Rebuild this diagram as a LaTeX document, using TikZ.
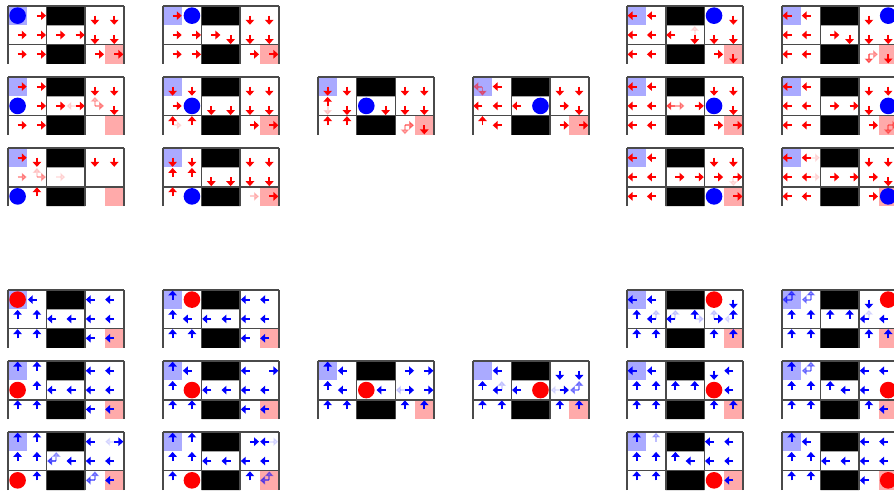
\documentclass[tikz,border=0pt]{standalone}
\usepackage{tikz}
\usetikzlibrary{arrows.meta}
\definecolor{startcell}{HTML}{AAAAFF}
\definecolor{goalcell}{HTML}{FFAAAA}
\definecolor{gridline}{HTML}{4A4A4A}
\def\dirr{0}\def\diru{90}\def\dirl{180}\def\dird{270}

% #1,#2 top left corner, #3,#4 agent cell (col,row), #5 arrow colour, #6 agent colour, #7 arrows col/row/dir/opacity
\newcommand{\policygrid}[7]{%
  \begin{scope}[shift={(#1,-#2)}]
    \fill[startcell] (0,0) rectangle (1,-1);
    \fill[goalcell] (5,-2) rectangle (6,-3);
    \fill[black] (2,0) rectangle (4,-1) (2,-2) rectangle (4,-3);
    \draw[cellgrid] (0,0) grid (6,-3);
    \foreach \px/\py/\dir/\op in {#7}
      \draw[policy arrow, #5, opacity=\op] (\px+.5,-\py-.5) -- ++(\csname dir\dir\endcsname:.47);
    \fill[#6] (#3+.5,-#4-.5) circle (.43);
  \end{scope}}

\begin{document}
\begin{tikzpicture}[
    x=0.5cm, y=0.5cm,
    cellgrid/.style={draw=gridline, line width=1.15pt},
    policy arrow/.style={-{Triangle[length=3.6pt,width=6.2pt]}, line width=1.4pt}
]
\useasboundingbox (0,0) rectangle (46.25,-25.66);
\clip (0,0) rectangle (46.25,-25.66);

% first agent
\policygrid{0.41}{0.31}{0}{0}{red}{blue}{1/0/r/1, 4/0/d/1, 5/0/d/1, 0/1/r/1, 1/1/r/1, 2/1/r/1, 3/1/r/1, 4/1/d/1, 5/1/d/1, 0/2/r/1, 1/2/r/1, 4/2/r/1, 5/2/r/1}
\policygrid{0.41}{3.98}{0}{1}{red}{blue}{0/0/r/1, 1/0/r/1, 4/0/d/1, 5/0/d/1, 1/1/r/1, 2/1/r/1, 3/1/r/1, 3/1/l/.1, 4/1/r/.35, 4/1/u/.25, 5/1/d/1, 0/2/r/1, 1/2/r/1}
\policygrid{0.41}{7.66}{0}{2}{red}{blue}{0/0/r/1, 1/0/d/1, 4/0/d/1, 5/0/d/1, 0/1/r/.35, 1/1/r/.3, 1/1/u/.15, 2/1/r/.1, 1/2/u/1}
\policygrid{8.43}{0.31}{1}{0}{red}{blue}{0/0/r/1, 4/0/d/1, 5/0/d/1, 0/1/r/1, 1/1/r/1, 2/1/r/1, 3/1/d/1, 4/1/d/1, 5/1/d/1, 0/2/r/1, 1/2/r/1, 4/2/r/1, 5/2/r/1}
\policygrid{8.43}{3.98}{1}{1}{red}{blue}{0/0/d/1, 1/0/d/1, 4/0/d/1, 5/0/d/1, 0/1/r/1, 2/1/d/1, 3/1/d/1, 4/1/d/1, 5/1/d/1, 0/2/u/1, 0/2/r/.1, 1/2/u/1, 4/2/r/1, 5/2/r/1}
\policygrid{8.43}{7.66}{1}{2}{red}{blue}{0/0/d/1, 1/0/d/1, 4/0/d/1, 5/0/d/1, 0/1/u/1, 1/1/u/1, 2/1/d/1, 3/1/d/1, 4/1/d/1, 5/1/d/1, 0/2/u/1, 4/2/r/.2, 5/2/r/1}
\policygrid{16.45}{3.98}{2}{1}{red}{blue}{0/0/d/1, 1/0/d/1, 4/0/d/1, 5/0/d/1, 0/1/u/1, 0/1/d/.15, 1/1/d/1, 3/1/d/1, 4/1/d/1, 5/1/d/1, 0/2/u/1, 1/2/u/1, 4/2/r/.45, 4/2/d/.3, 5/2/d/1}
\policygrid{24.46}{3.98}{3}{1}{red}{blue}{0/0/l/.4, 0/0/d/.4, 1/0/l/1, 4/0/d/1, 5/0/d/1, 0/1/l/1, 1/1/l/1, 2/1/l/1, 4/1/r/1, 5/1/d/1, 0/2/u/1, 1/2/l/1, 4/2/r/1, 5/2/r/1}
\policygrid{32.44}{0.31}{4}{0}{red}{blue}{0/0/l/1, 1/0/l/1, 5/0/d/1, 0/1/l/1, 1/1/l/1, 2/1/l/1, 3/1/d/1, 3/1/u/.1, 4/1/d/1, 5/1/d/1, 0/2/l/1, 1/2/l/1, 4/2/r/1, 5/2/d/1}
\policygrid{32.44}{3.98}{4}{1}{red}{blue}{0/0/l/1, 1/0/l/1, 4/0/d/1, 5/0/d/1, 0/1/l/1, 1/1/l/1, 2/1/l/.6, 2/1/r/.35, 3/1/r/1, 5/1/d/1, 0/2/l/1, 1/2/l/1, 4/2/r/1, 5/2/r/1}
\policygrid{32.44}{7.66}{4}{2}{red}{blue}{0/0/l/1, 1/0/l/1, 4/0/d/1, 5/0/d/1, 0/1/l/1, 1/1/l/1, 2/1/r/1, 3/1/r/1, 4/1/r/1, 5/1/r/1, 5/1/d/.1, 0/2/l/1, 1/2/l/1, 5/2/r/1}
\policygrid{40.45}{0.31}{5}{0}{red}{blue}{0/0/l/1, 1/0/l/1, 4/0/d/1, 0/1/l/1, 1/1/l/1, 2/1/r/1, 3/1/d/1, 4/1/d/1, 5/1/d/1, 0/2/l/1, 1/2/l/1, 4/2/r/.3, 4/2/d/.5, 5/2/d/1}
\policygrid{40.45}{3.98}{5}{1}{red}{blue}{0/0/l/1, 1/0/l/1, 4/0/d/1, 5/0/d/1, 0/1/l/1, 1/1/l/1, 2/1/r/1, 3/1/r/1, 4/1/d/1, 0/2/l/1, 1/2/l/1, 4/2/r/1, 5/2/r/.35, 5/2/d/.35}
\policygrid{40.45}{7.66}{5}{2}{red}{blue}{0/0/l/1, 1/0/l/1, 1/0/r/.1, 4/0/d/1, 5/0/d/1, 0/1/l/1, 1/1/l/1, 1/1/r/.1, 2/1/r/1, 3/1/r/1, 4/1/r/1, 5/1/d/1, 0/2/l/1, 1/2/l/1, 4/2/r/1}

% second agent
\policygrid{0.41}{15.0}{0}{0}{blue}{red}{1/0/l/1, 4/0/l/1, 5/0/l/1, 0/1/u/1, 1/1/u/1, 2/1/l/1, 3/1/l/1, 4/1/l/1, 5/1/l/1, 0/2/u/1, 1/2/u/1, 4/2/l/1, 5/2/l/1}
\policygrid{0.41}{18.68}{0}{1}{blue}{red}{0/0/u/1, 1/0/u/1, 4/0/l/1, 5/0/l/1, 1/1/u/1, 2/1/l/1, 3/1/l/1, 4/1/l/1, 5/1/l/1, 0/2/u/1, 1/2/u/1, 4/2/l/1, 5/2/l/1}
\policygrid{0.41}{22.35}{0}{2}{blue}{red}{0/0/u/1, 1/0/u/1, 4/0/l/1, 5/0/l/.1, 5/0/r/1, 0/1/u/1, 1/1/u/1, 2/1/u/.3, 2/1/l/.6, 3/1/l/1, 4/1/l/1, 5/1/l/1, 1/2/u/1, 4/2/u/.4, 4/2/l/.5, 5/2/l/1}
\policygrid{8.43}{15.0}{1}{0}{blue}{red}{0/0/u/1, 4/0/l/1, 5/0/l/1, 0/1/u/1, 1/1/l/1, 2/1/l/1, 3/1/l/1, 4/1/l/1, 5/1/l/1, 0/2/u/1, 1/2/u/1, 4/2/l/1, 5/2/l/1}
\policygrid{8.43}{18.68}{1}{1}{blue}{red}{0/0/u/1, 1/0/l/1, 4/0/l/1, 5/0/r/1, 0/1/u/1, 2/1/l/1, 3/1/l/1, 4/1/l/1, 5/1/l/1, 0/2/u/1, 1/2/u/1, 4/2/l/1, 5/2/l/1}
\policygrid{8.43}{22.35}{1}{2}{blue}{red}{0/0/u/1, 1/0/u/1, 4/0/r/1, 5/0/l/1, 5/0/r/.1, 0/1/u/1, 1/1/u/1, 2/1/l/1, 3/1/l/1, 4/1/l/1, 5/1/l/1, 0/2/u/1, 4/2/u/1, 5/2/l/.5, 5/2/u/.4}
\policygrid{16.45}{18.68}{2}{1}{blue}{red}{0/0/u/1, 1/0/l/1, 4/0/r/1, 5/0/r/1, 0/1/u/1, 1/1/l/1, 3/1/l/1, 4/1/l/.15, 4/1/r/1, 5/1/r/1, 0/2/u/1, 1/2/u/1, 4/2/u/1, 5/2/u/1}
\policygrid{24.46}{18.68}{3}{1}{blue}{red}{1/0/l/1, 4/0/d/1, 5/0/d/1, 0/1/u/1, 1/1/l/1, 1/1/u/.15, 2/1/l/1, 4/1/r/1, 4/1/l/.1, 5/1/u/.4, 5/1/l/.4, 0/2/u/1, 1/2/u/1, 4/2/u/1, 5/2/u/1}
\policygrid{32.44}{15.0}{4}{0}{blue}{red}{0/0/l/1, 1/0/l/1, 5/0/d/1, 0/1/u/1, 1/1/l/1, 1/1/u/.15, 2/1/l/1, 2/1/u/.15, 3/1/u/1, 3/1/r/.15, 4/1/r/1, 4/1/u/.15, 5/1/u/1, 5/1/l/.1, 0/2/u/1, 1/2/u/1, 4/2/u/1, 5/2/u/1}
\policygrid{32.44}{18.68}{4}{1}{blue}{red}{0/0/l/1, 1/0/l/1, 4/0/d/1, 5/0/l/1, 0/1/u/1, 1/1/u/1, 2/1/u/1, 3/1/u/1, 5/1/l/1, 0/2/u/1, 1/2/u/1, 4/2/u/1, 5/2/u/1}
\policygrid{32.44}{22.35}{4}{2}{blue}{red}{0/0/u/1, 1/0/u/.25, 4/0/l/1, 5/0/l/1, 0/1/u/1, 1/1/u/1, 2/1/u/1, 3/1/l/1, 4/1/l/1, 5/1/l/1, 0/2/u/1, 1/2/u/1, 5/2/l/1}
\policygrid{40.45}{15.0}{5}{0}{blue}{red}{0/0/u/.5, 0/0/l/.5, 1/0/u/.4, 1/0/l/.4, 4/0/d/1, 0/1/u/1, 1/1/u/1, 2/1/u/1, 3/1/u/1, 4/1/l/1, 4/1/u/.1, 5/1/l/1, 0/2/u/1, 1/2/u/1, 4/2/u/1, 5/2/u/1}
\policygrid{40.45}{18.68}{5}{1}{blue}{red}{0/0/u/1, 1/0/u/.4, 1/0/l/.4, 4/0/l/1, 5/0/l/1, 0/1/u/1, 1/1/u/1, 2/1/u/1, 3/1/l/1, 4/1/l/1, 0/2/u/1, 1/2/u/1, 4/2/u/1, 5/2/l/1}
\policygrid{40.45}{22.35}{5}{2}{blue}{red}{0/0/u/1, 1/0/l/1, 4/0/l/1, 5/0/l/1, 0/1/u/1, 1/1/u/1, 2/1/l/1, 3/1/l/1, 4/1/l/1, 5/1/l/1, 0/2/u/1, 1/2/u/1, 4/2/l/1}
\end{tikzpicture}
\end{document}
